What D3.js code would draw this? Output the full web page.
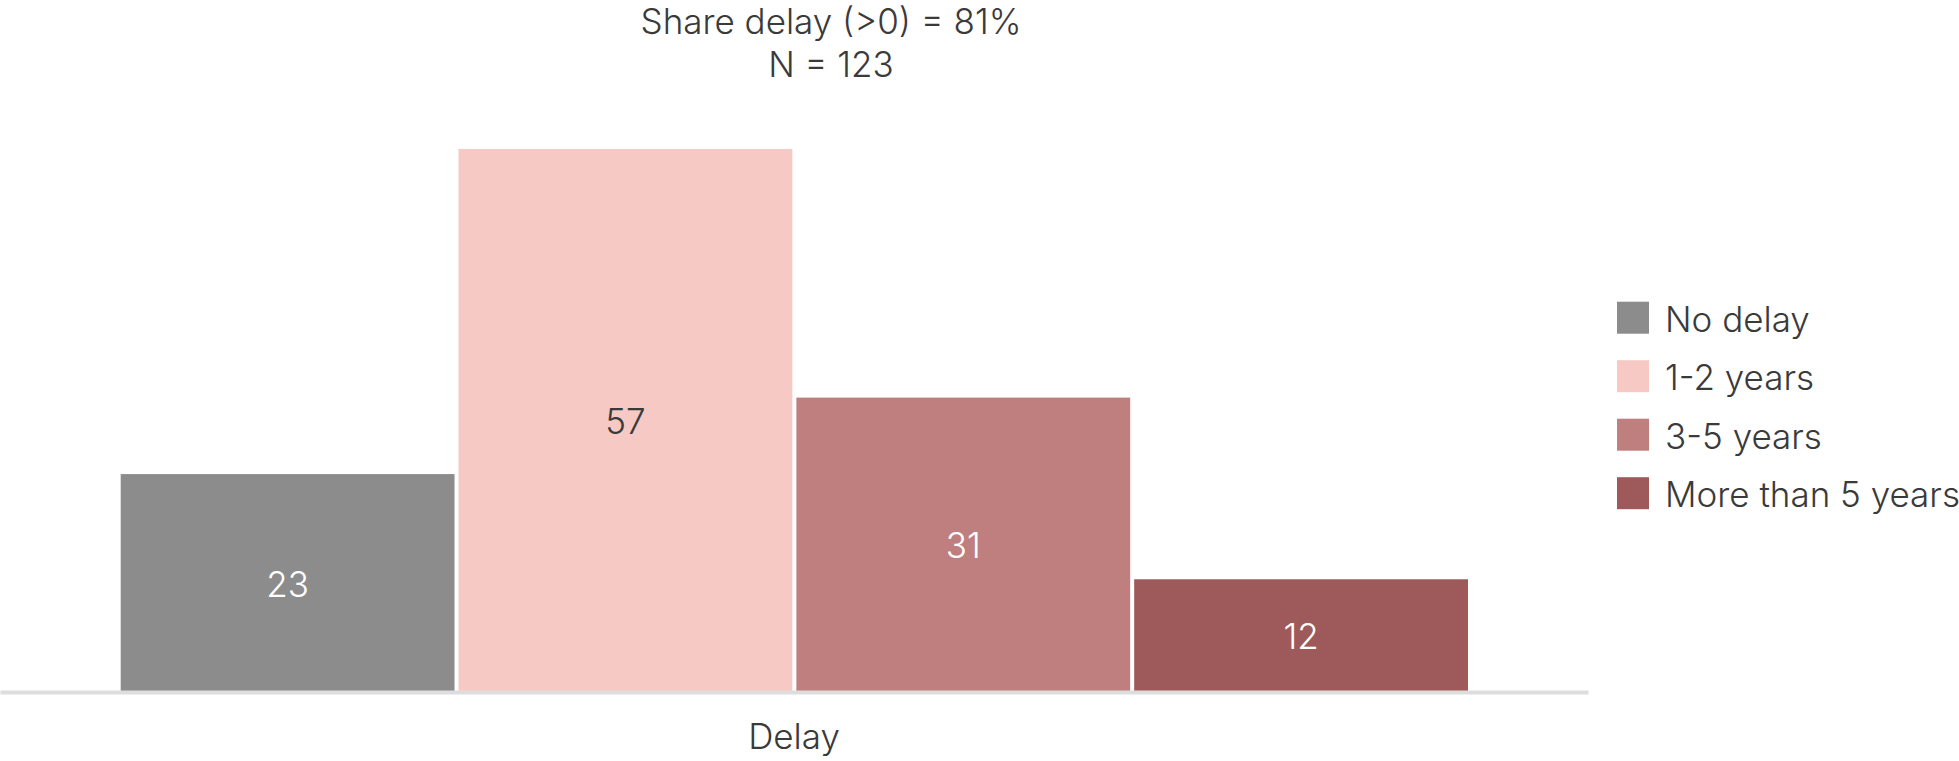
<!DOCTYPE html>
<html>
<head>
<meta charset="utf-8">
<script src="https://cdn.jsdelivr.net/npm/d3@7"></script>
<style>
  html, body { margin: 0; padding: 0; background: #fff; }
  svg { display: block; }
  text { font-family: Inter, "Open Sans", sans-serif; font-weight: 300; }
</style>
</head>
<body>
<svg id="chart" width="1959" height="761"></svg>
<script>
const groups = ["Delay"];
const categories = ["No delay", "1-2 years", "3-5 years", "More than 5 years"];
const values = [23, 57, 31, 12];
const colors = ["#8c8c8c", "#f7c9c4", "#c07f7f", "#9e5a5a"];
const labelColors = ["#ffffff", "#3a3a3a", "#ffffff", "#ffffff"];
const titleLines = ["Share delay (>0) = 81%", "N = 123"];

const svg = d3.select("#chart");
const fontSize = 35;

const x0 = d3.scaleBand().domain(groups).range([0, 1588]);
const x1 = d3.scaleBand().domain(categories).range([118.7, 1470]).padding(0);
const y = d3.scaleLinear().domain([0, d3.max(values)]).range([694, 149]);

const data = categories.map((c, i) => ({ cat: c, value: values[i], color: colors[i], lc: labelColors[i] }));

// bars
svg.append("g").selectAll("rect").data(data).join("rect")
  .attr("x", d => x1(d.cat) + 2)
  .attr("width", x1.bandwidth() - 4)
  .attr("y", d => y(d.value))
  .attr("height", d => y(0) - y(d.value))
  .attr("fill", d => d.color);

// value labels
svg.append("g").selectAll("text").data(data).join("text")
  .attr("x", d => x1(d.cat) + x1.bandwidth() / 2)
  .attr("y", d => (y(d.value) + y(0)) / 2)
  .attr("dy", "0.36em")
  .attr("text-anchor", "middle")
  .attr("font-size", fontSize)
  .attr("fill", d => d.lc)
  .text(d => d.value);

// x axis
const xAxis = svg.append("g")
  .attr("transform", "translate(0,692)")
  .call(d3.axisBottom(x0).tickSize(0).tickPadding(32));
xAxis.select(".domain").attr("stroke", "#dddddd").attr("stroke-width", 4);
xAxis.selectAll("text")
  .attr("font-size", fontSize)
  .attr("font-family", "Inter, sans-serif")
  .attr("font-weight", 300)
  .attr("fill", "#3a3a3a")
  .attr("dy", "0.71em");

// title
svg.append("g").selectAll("text").data(titleLines).join("text")
  .attr("x", 831)
  .attr("y", (d, i) => 34 + i * 43)
  .attr("text-anchor", "middle")
  .attr("font-size", fontSize)
  .attr("fill", "#3a3a3a")
  .text(d => d);

// legend
const leg = svg.append("g").attr("transform", "translate(1617,301.7)");
const items = leg.selectAll("g").data(data).join("g")
  .attr("transform", (d, i) => `translate(0,${i * 58.5})`);
items.append("rect")
  .attr("width", 32).attr("height", 32)
  .attr("fill", d => d.color);
items.append("text")
  .attr("x", 48).attr("y", 30)
  .attr("font-size", fontSize)
  .attr("fill", "#3a3a3a")
  .text(d => d.cat);
</script>
</body>
</html>
